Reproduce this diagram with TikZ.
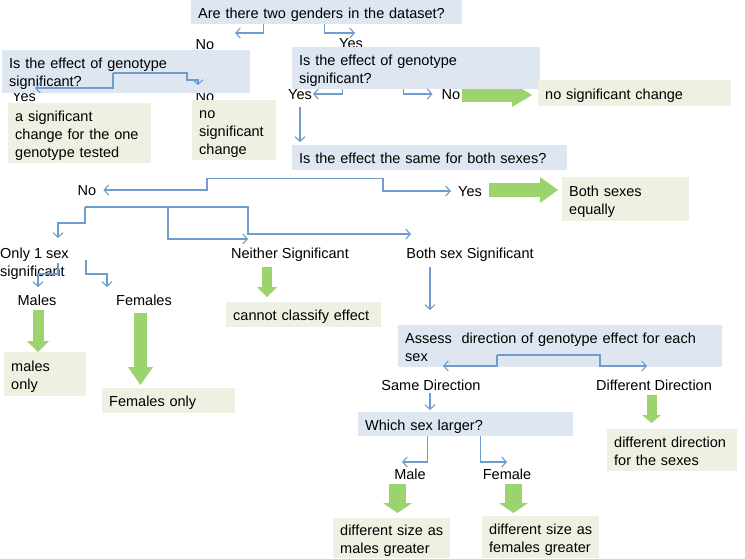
\documentclass[tikz,border=0pt]{standalone}
\usepackage{fontspec}
\setmainfont{Liberation Sans}
\usepackage{xcolor}
\usepackage{tikz}
\usetikzlibrary{arrows.meta, backgrounds}
\definecolor{qfill}{RGB}{221,230,241}
\definecolor{afill}{RGB}{236,241,225}
\definecolor{linkblue}{RGB}{110,156,206}
\definecolor{garrow}{RGB}{155,211,108}

\begin{document}
\begin{tikzpicture}[x=1pt, y=-1pt,
    qbox/.style={rectangle, fill=qfill, anchor=north west, align=left, inner xsep=7pt, inner ysep=0pt, font=\fontsize{14.5}{18}\selectfont,
        execute at begin node={\rule{0pt}{16.5pt}}, execute at end node={\rule[-4.5pt]{0pt}{0pt}}},
    abox/.style={qbox, fill=afill},
    lbl/.style={inner sep=1pt, text height=12.5pt, text depth=1pt, font=\fontsize{14.5}{18}\selectfont},
    conn/.style={draw=linkblue, line width=1.1pt, -{Straight Barb[length=4.5pt, width=10pt]}},
    fat/.style n args={3}{draw=garrow, line width=#1, -{Triangle[length=#2, width=#3, line width=0pt]}}
]
\useasboundingbox (0,0) rectangle (745,558);

% labels first, the boxes cover them a little
\node[lbl] (noA) at (205,44) {No};
\node[lbl] (yesA) at (351,43) {Yes};
\node[lbl] (yesB) at (24,96) {Yes};
\node[lbl] (noB) at (205,96) {No};
\node[lbl] (yesC) at (300,94) {Yes};
\node[lbl] (noC) at (451,94) {No};
\node[lbl] (noD) at (87,190) {No};
\node[lbl] (yesD) at (470,191) {Yes};
\node[anchor=north west, align=left, inner sep=0pt, font=\fontsize{14.5}{18}\selectfont] (only1) at (0,248) {Only 1 sex\\significant};
\node[lbl] (neither) at (290,253) {Neither Significant};
\node[lbl] (both) at (470,253) {Both sex Significant};
\node[lbl] (males) at (37,300) {Males};
\node[lbl] (females) at (144,300) {Females};
\node[lbl] (same) at (431,385) {Same Direction};
\node[lbl] (diff) at (654,385) {Different Direction};
\node[lbl] (male) at (410,474) {Male};
\node[lbl] (female) at (507,474) {Female};

% questions
\node[qbox, text width=257pt, minimum height=24pt] (q1) at (191,0) {Are there two genders in the dataset?};
\node[qbox, text width=234pt, minimum height=43pt] (q2) at (2,50) {Is the effect of genotype\\significant?};
\node[qbox, text width=234pt, minimum height=42pt] (q3) at (292,47) {Is the effect of genotype\\significant?};
\node[qbox, text width=261pt, minimum height=25pt] (q4) at (292,145) {Is the effect the same for both sexes?};
\node[qbox, text width=310pt, minimum height=42pt] (q5) at (398,325) {Assess~ direction of genotype effect for each\\sex};
\node[qbox, text width=201pt, minimum height=24pt] (q6) at (358,412) {Which sex larger?};

% outcomes
\node[abox, text width=129pt, minimum height=60pt] (a1) at (8,103) {a significant\\change for the one\\genotype tested};
\node[abox, text width=70pt, minimum height=60pt] (a2) at (192,100) {no\\significant\\change};
\node[abox, text width=179pt, minimum height=26pt] (a3) at (538,80) {no significant change};
\node[abox, text width=113pt, minimum height=44pt] (a4) at (562,177) {Both sexes\\equally};
\node[abox, text width=68pt, minimum height=44pt] (a5) at (4,352) {males\\only};
\node[abox, text width=119pt, minimum height=25pt] (a6) at (102,388) {Females only};
\node[abox, text width=141pt, minimum height=25pt] (a7) at (226,302) {cannot classify effect};
\node[abox, text width=103pt, minimum height=40pt] (a8) at (333,518) {different size as\\males greater};
\node[abox, text width=103pt, minimum height=42pt] (a9) at (482,516) {different size as\\females greater};
\node[abox, text width=116pt, minimum height=42pt] (a10) at (607,429) {different direction\\for the sexes};

\coordinate (split2) at ([shift={(111,23)}]q2.north west);
\coordinate (split4) at ([shift={(21,8)}]q4.south west);
\coordinate (split5) at ([shift={(-2,17)}]noD.center);
\coordinate (split6) at ([shift={(99,30)}]q5.north west);

\draw[conn] ([xshift=-63.5pt]q1.south) |- ([shift={(30,-11)}]noA.center);
\draw[conn] ([xshift=-2.5pt]q1.south) |- ([shift={(4,-10)}]yesA.center);
\draw[conn] (split2) |- ([shift={(11,-8)}]yesB.center);
\draw[conn] (split2) -| ([shift={(-18,-16)}]noB.center) -- ++(11,0) -- ++(0,5);
\draw[conn] ([xshift=-74pt]q3.south) |- (yesC.east);
\draw[conn, shorten >=8pt] ([xshift=-13pt]q3.south) |- (noC.west);
\draw[conn, shorten <=5pt, shorten >=3pt] (yesC.south) -- (yesC.south |- q4.north);
\draw[conn] (split4) -- ++(-106,0) |- ([xshift=6pt]noD.east);
\draw[conn] (split4) -- ++(70,0) |- ([xshift=-6pt]yesD.west);
\draw[conn] (split5) -- ++(0,16) -| ([shift={(58,-10)}]only1.north west);
\draw[conn] (split5) -- ++(83,0) |- ([shift={(-42,-14)}]neither.center);
\draw[conn] (split5) -- ++(163,0) |- ([shift={(-59,-19)}]both.center);
\draw[conn] ([shift={(58,15)}]only1.north west) -- ++(0,11) -| ([shift={(1,-13)}]males.center);
\draw[conn] ([shift={(86,12)}]only1.north west) -- ++(0,14) -| ([shift={(-37,-13)}]females.center);
\draw[conn, shorten <=6pt, shorten >=15pt] ([xshift=-40pt]both.south) -- ([xshift=-40pt]both.south |- q5.north);
\draw[conn] (split6) |- ([shift={(12,-19)}]same.center);
\draw[conn] (split6) -- ++(103,0) |- ([shift={(-7,-19)}]diff.center);
\draw[conn, shorten >=2pt] ([xshift=-1pt]same.south) -- ([xshift=-1pt]same.south |- q6.north);
\draw[conn] ([xshift=-38.5pt]q6.south) |- ([shift={(-8,-12)}]male.center);
\draw[conn] ([xshift=14.5pt]q6.south) |- ([shift={(0,-12)}]female.center);

\begin{scope}[on background layer]
\draw[fat={14pt}{20pt}{24pt}, shorten <=1pt, shorten >=6pt] ([shift={(0,1)}]noC.east) -- ([shift={(0,1)}]noC.east -| a3.west);
\draw[fat={14pt}{18pt}{26pt}, shorten <=6pt, shorten >=4pt] ([shift={(0,-1)}]yesD.east) -- ([shift={(0,-1)}]yesD.east -| a4.west);
\draw[fat={11pt}{11pt}{22pt}, shorten <=2pt] ([xshift=1pt]males.south) -- ([xshift=1pt]males.south |- a5.north);
\draw[fat={13pt}{18pt}{25pt}, shorten <=5pt, shorten >=3pt] ([xshift=-3.5pt]females.south) -- ([xshift=-3.5pt]females.south |- a6.north);
\draw[fat={10pt}{10pt}{20pt}, shorten <=6pt, shorten >=5pt] ([xshift=-23pt]neither.south) -- ([xshift=-23pt]neither.south |- a7.north);
\draw[fat={17pt}{10pt}{29pt}, shorten <=2pt, shorten >=5pt] ([xshift=-12.5pt]male.south) -- ([xshift=-12.5pt]male.south |- a8.north);
\draw[fat={17pt}{10pt}{29pt}, shorten <=2pt, shorten >=3pt] ([xshift=6.5pt]female.south) -- ([xshift=6.5pt]female.south |- a9.north);
\draw[fat={10pt}{8pt}{19pt}, shorten <=2pt, shorten >=6pt] ([xshift=-2.5pt]diff.south) -- ([xshift=-2.5pt]diff.south |- a10.north);
\end{scope}

\end{tikzpicture}
\end{document}
